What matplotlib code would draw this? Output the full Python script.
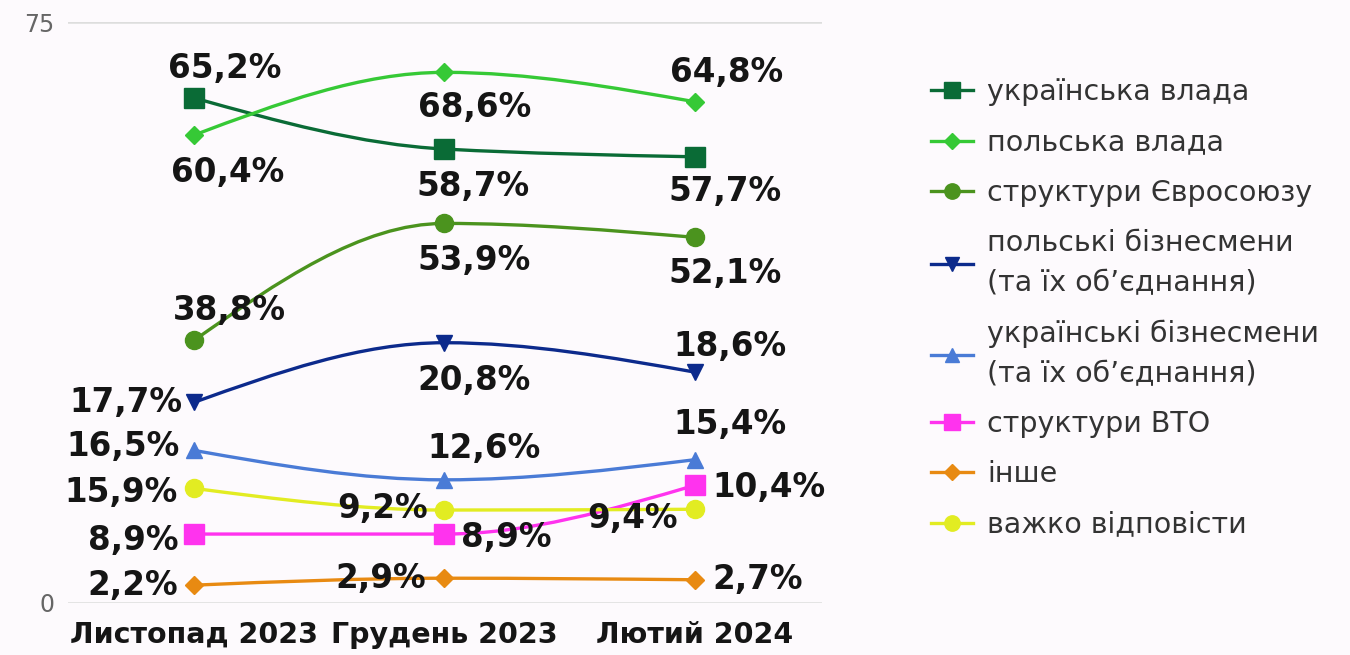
import matplotlib
matplotlib.use("Agg")
import matplotlib.pyplot as plt
from matplotlib.path import Path
from matplotlib.patches import PathPatch
from matplotlib.lines import Line2D

plt.rcParams['font.family'] = ['DejaVu Sans']

months = ["Листопад 2023", "Грудень 2023", "Лютий 2024"]

series_names = [
    "українська влада",
    "польська влада",
    "структури Євросоюзу",
    "польські бізнесмени\n(та їх об’єднання)",
    "українські бізнесмени\n(та їх об’єднання)",
    "структури ВТО",
    "інше",
    "важко відповісти",
]

# positions of the points as drawn in the picture
ua_gov = [65.2, 58.6, 57.6]
pl_gov = [60.4, 68.5, 64.7]
eu = [33.9, 49.0, 47.2]
pl_biz = [25.9, 33.6, 29.8]
ua_biz = [19.7, 15.9, 18.5]
wto = [8.9, 8.9, 15.2]
other = [2.3, 3.2, 3.0]
hard = [14.8, 12.0, 12.1]

# data labels printed next to the points
ua_gov_lbl = ["65,2%", "58,7%", "57,7%"]
pl_gov_lbl = ["60,4%", "68,6%", "64,8%"]
eu_lbl = ["38,8%", "53,9%", "52,1%"]
pl_biz_lbl = ["17,7%", "20,8%", "18,6%"]
ua_biz_lbl = ["16,5%", "12,6%", "15,4%"]
wto_lbl = ["8,9%", "8,9%", "10,4%"]
other_lbl = ["2,2%", "2,9%", "2,7%"]
hard_lbl = ["15,9%", "9,2%", "9,4%"]

values = [ua_gov, pl_gov, eu, pl_biz, ua_biz, wto, other, hard]
labels = [ua_gov_lbl, pl_gov_lbl, eu_lbl, pl_biz_lbl, ua_biz_lbl, wto_lbl, other_lbl, hard_lbl]

colors = ["#0a6b36", "#36c936", "#4b931e", "#0c2a8c", "#4a7bd6", "#ff33ee", "#e88a12", "#e2ec22"]
markers = ["s", "D", "o", "v", "^", "s", "D", "o"]
msizes = [14, 9, 13, 12, 12, 14, 9, 13]

# label offsets in pixels (dx, dy down) and horizontal alignment
offsets = [
    [(31, -29, "center"), (29, 37, "center"), (30, 35, "center")],
    [(34, 37, "center"), (30, 35, "center"), (32, -29, "center")],
    [(35, -30, "center"), (30, 37, "center"), (30, 36, "center")],
    [(-12, 0, "right"), (30, 38, "center"), (35, -26, "center")],
    [(-14, -4, "right"), (40, -31, "center"), (35, -35, "center")],
    [(-16, 6, "right"), (17, 3, "left"), (17, 2, "left")],
    [(-16, 0, "right"), (-18, 0, "right"), (17, 0, "left")],
    [(-16, 4, "right"), (-17, -2, "right"), (-17, 9, "right")],
]

bg = "#fdfafd"
fig = plt.figure(figsize=(13.5, 6.55), dpi=100, facecolor=bg)
ax = fig.add_axes([68 / 1350, 1 - 603 / 655, 754 / 1350, 581 / 655])
ax.set_facecolor(bg)

x = [0, 1, 2]


def smooth_path(xs, ys):
    # monotone cubic curve (flat at local extrema), drawn as bezier segments
    n = len(xs)
    d = [(ys[i + 1] - ys[i]) / (xs[i + 1] - xs[i]) for i in range(n - 1)]
    t = [0.0] * n
    for i in range(1, n - 1):
        if d[i - 1] * d[i] > 0:
            t[i] = 2 / (1 / d[i - 1] + 1 / d[i])
    t[0] = (3 * d[0] - t[1]) / 2
    t[-1] = (3 * d[-1] - t[-2]) / 2
    verts = [(xs[0], ys[0])]
    codes = [Path.MOVETO]
    for i in range(n - 1):
        h = xs[i + 1] - xs[i]
        verts.append((xs[i] + h / 3, ys[i] + t[i] * h / 3))
        verts.append((xs[i + 1] - h / 3, ys[i + 1] - t[i + 1] * h / 3))
        verts.append((xs[i + 1], ys[i + 1]))
        codes += [Path.CURVE4] * 3
    return Path(verts, codes)


handles = []
for k, vals in enumerate(values):
    patch = PathPatch(smooth_path(x, vals), facecolor="none", edgecolor=colors[k],
                      lw=2.4, zorder=3 + k * 0.1, capstyle="round")
    ax.add_patch(patch)
    ax.plot(x, vals, ls="none", marker=markers[k], ms=msizes[k], color=colors[k],
            mec=colors[k], zorder=4 + k * 0.1)
    handles.append(Line2D([], [], color=colors[k], lw=2.4, marker=markers[k],
                          ms=msizes[k] * 0.85, mec=colors[k]))
    for i, txt in enumerate(labels[k]):
        dx, dy, ha = offsets[k][i]
        ax.annotate(txt, xy=(x[i], vals[i]), xytext=(dx * 0.72, -dy * 0.72),
                    textcoords="offset points", ha=ha, va="center",
                    fontsize=23.5, fontweight="bold", color="#151515", zorder=10)

ax.set_xlim(-0.503, 2.507)
ax.set_ylim(0, 75)
ax.set_yticks([0, 75])
ax.set_yticklabels(["0", "75"])
ax.set_xticks(x)
ax.set_xticklabels(months, fontsize=20.5, fontweight="bold", color="#151515")
ax.tick_params(axis="x", length=0, pad=13)
ax.tick_params(axis="y", length=0, pad=10, labelsize=17, labelcolor="#666666")
ax.grid(axis="y", color="#dddddd", lw=1.8)
ax.set_axisbelow(True)
for s in ax.spines.values():
    s.set_visible(False)

leg = fig.legend(handles, series_names, loc="upper left",
                 bbox_to_anchor=(920 / 1350, 1 - 67 / 655), frameon=False,
                 fontsize=20.5, handlelength=1.45, handletextpad=0.5,
                 labelspacing=0.78, labelcolor="#333333", borderaxespad=0)
for t in leg.get_texts():
    t.set_linespacing(1.55)

fig.savefig("out.png", dpi=100, facecolor=bg)
